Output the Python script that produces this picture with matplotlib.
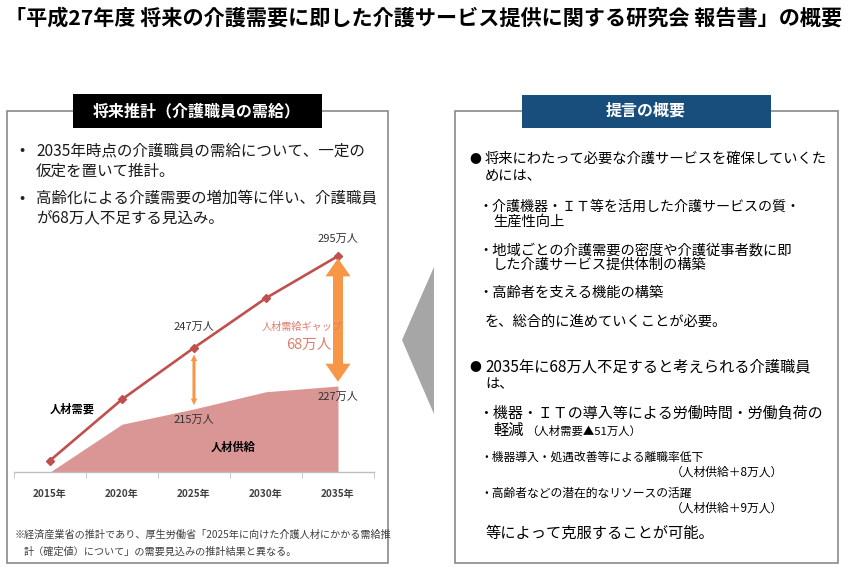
import matplotlib
matplotlib.use("Agg")
import matplotlib.pyplot as plt
from matplotlib.patches import Rectangle, Polygon

plt.rcParams["font.family"] = ["Noto Sans CJK JP", "DejaVu Sans"]

# ======================================================
# DATA
# ======================================================

years = ["2015年", "2020年", "2025年", "2030年", "2035年"]
demand = [188, 220, 247, 273, 295]   # 人材需要 (万人)
supply = [182, 207, 215, 224, 227]   # 人材供給 (万人)

title = "「平成27年度 将来の介護需要に即した介護サービス提供に関する研究会 報告書」の概要"

left_lines = [
    ("2035年時点の介護職員の需給について、一定の", True),
    ("仮定を置いて推計。", False),
    ("高齢化による介護需要の増加等に伴い、介護職員", True),
    ("が68万人不足する見込み。", False),
]

note_lines = [
    "※経済産業省の推計であり、厚生労働省「2025年に向けた介護人材にかかる需給推",
    "計（確定値）について」の需要見込みの推計結果と異なる。",
]

RED = "#C0504D"
AREA = "#DA9694"
ORANGE = "#F79646"
GAP = "#E27D6E"
BOX = "#808080"

# ======================================================
# FIGURE
# ======================================================

fig = plt.figure(figsize=(8.48, 5.85), dpi=100)
fig.patch.set_facecolor("white")

# chart axes first, overlay (texts, boxes) drawn on top
ax = fig.add_axes([14 / 848, (585 - 472) / 585, 360 / 848, 237 / 585])
ax.patch.set_alpha(0)

ov = fig.add_axes([0, 0, 1, 1])
ov.set_zorder(5)
ov.patch.set_alpha(0)
ov.set_xlim(0, 848)
ov.set_ylim(585, 0)
ov.axis("off")

ov.text(5, 18, title, fontsize=15.2, fontweight="bold", va="center", ha="left")

# boxes
ov.add_patch(Rectangle((7, 111), 381, 452, fill=False, ec=BOX, lw=1.1))
ov.add_patch(Rectangle((455, 111), 383, 452, fill=False, ec=BOX, lw=1.1))

ov.add_patch(Rectangle((73, 94), 249, 34, fc="black", ec="none", zorder=3))
ov.text(197, 111, "将来推計（介護職員の需給）", color="white", fontsize=11.5,
        fontweight="bold", ha="center", va="center", zorder=4)

ov.add_patch(Rectangle((522, 95), 249, 33, fc="#174E7C", ec="none", zorder=3))
ov.text(646, 111, "提言の概要", color="white", fontsize=11.5,
        fontweight="bold", ha="center", va="center", zorder=4)

# gray arrow
ov.add_patch(Polygon([(402, 340), (434, 267), (434, 414)], closed=True,
                     fc="#A6A6A6", ec="none"))

# left texts
for (txt, bullet), y in zip(left_lines, [151, 171, 198, 218]):
    if bullet:
        ov.text(22, y, "•", fontsize=11, va="center", ha="center", color="#222222")
    ov.text(36, y, txt, fontsize=11.2, va="center", ha="left", color="#1a1a1a")

ov.text(15, 535, note_lines[0], fontsize=7.3, va="center", ha="left", color="#404040")
ov.text(24, 552, note_lines[1], fontsize=7.3, va="center", ha="left", color="#404040")

# right texts
ov.text(475, 159, "●", fontsize=8.5, va="center", ha="center")
ov.text(485, 159, "将来にわたって必要な介護サービスを確保していくた", fontsize=10.3, va="center")
ov.text(485, 176, "めには、", fontsize=10.3, va="center")
ov.text(478, 207, "・介護機器・ＩＴ等を活用した介護サービスの質・", fontsize=10.1, va="center")
ov.text(493, 222, "生産性向上", fontsize=10.3, va="center")
ov.text(478, 250, "・地域ごとの介護需要の密度や介護従事者数に即", fontsize=10.3, va="center")
ov.text(493, 265, "した介護サービス提供体制の構築", fontsize=10.3, va="center")
ov.text(478, 293, "・高齢者を支える機能の構築", fontsize=10.3, va="center")
ov.text(485, 322, "を、総合的に進めていくことが必要。", fontsize=10.3, va="center")

ov.text(475, 367, "●", fontsize=8.5, va="center", ha="center")
ov.text(485, 367, "2035年に68万人不足すると考えられる介護職員", fontsize=11, va="center")
ov.text(485, 384, "は、", fontsize=10.3, va="center")
ov.text(478, 413, "・機器・ＩＴの導入等による労働時間・労働負荷の", fontsize=10.8, va="center")
ov.text(493, 430, "軽減", fontsize=11, va="center")
ov.text(526, 431, "（人材需要▲51万人）", fontsize=8.2, va="center")
ov.text(480, 457, "・機器導入・処遇改善等による離職率低下", fontsize=8.5, va="center")
ov.text(783, 472, "（人材供給＋8万人）", fontsize=8.5, va="center", ha="right")
ov.text(480, 493, "・高齢者などの潜在的なリソースの活躍", fontsize=8.5, va="center")
ov.text(783, 508, "（人材供給＋9万人）", fontsize=8.5, va="center", ha="right")
ov.text(485, 533, "等によって克服することが可能。", fontsize=11, va="center")

# ======================================================
# CHART
# ======================================================

x = list(range(len(years)))

ax.fill_between(x, supply[0], supply, color=AREA, lw=0, zorder=1)
ax.plot(x, demand, color=RED, lw=1.9, marker="D", markersize=4.5, zorder=3)

ax.set_xlim(-0.5, len(years) - 0.5)
ax.set_ylim(supply[0], 306)

for s in ["top", "right", "left"]:
    ax.spines[s].set_visible(False)
ax.spines["bottom"].set_color("#BFBFBF")
ax.spines["bottom"].set_linewidth(1.0)
ax.set_yticks([])
ax.set_xticks(x)
ax.set_xticklabels(years, fontsize=7.2, fontweight="bold", color="#404040")
ax.set_xticks([i - 0.5 for i in range(len(years) + 1)], minor=True)
ax.tick_params(axis="x", which="major", length=0, pad=12)
ax.tick_params(axis="x", which="minor", length=4, color="#BFBFBF", direction="out")

# value labels
for i, dy in [(2, 15), (4, 12)]:
    ax.annotate(f"{demand[i]}万人", (i, demand[i]), xytext=(0, dy),
                textcoords="offset points", ha="center", va="center",
                fontsize=8, color="#333333")
for i, dy in [(2, -8), (4, -7.5)]:
    ax.annotate(f"{supply[i]}万人", (i, supply[i]), xytext=(0, dy),
                textcoords="offset points", ha="center", va="center",
                fontsize=8, color="#333333")

# gap arrows
def gap_arrow(i, top, bottom, tail, head_w, head_l):
    mid = (top + bottom) / 2
    style = f"simple,head_length={head_l},head_width={head_w},tail_width={tail}"
    for end in (top, bottom):
        ax.annotate("", xy=(i, end), xytext=(i, mid),
                    arrowprops=dict(arrowstyle=style, color=ORANGE, mutation_scale=1,
                                    shrinkA=0, shrinkB=0, lw=0))

gap_arrow(2, demand[2] - 3.6, supply[2] + 2, 2.2, 4.6, 4.6)
gap_arrow(4, demand[4] - 1.2, supply[4] + 2.2, 7.2, 18, 13)

# series labels
ov.text(72, 409, "人材需要", fontsize=8.1, fontweight="bold", ha="center", va="center")
ov.text(233, 447, "人材供給", fontsize=8.1, fontweight="bold", ha="center", va="center")
ov.text(302, 327, "人材需給ギャップ", fontsize=7.3, color=GAP, ha="center", va="center")
ov.text(309, 345, "68万人", fontsize=10.5, color=GAP, ha="center", va="center")

fig.savefig("out.png", dpi=100, facecolor="white")
